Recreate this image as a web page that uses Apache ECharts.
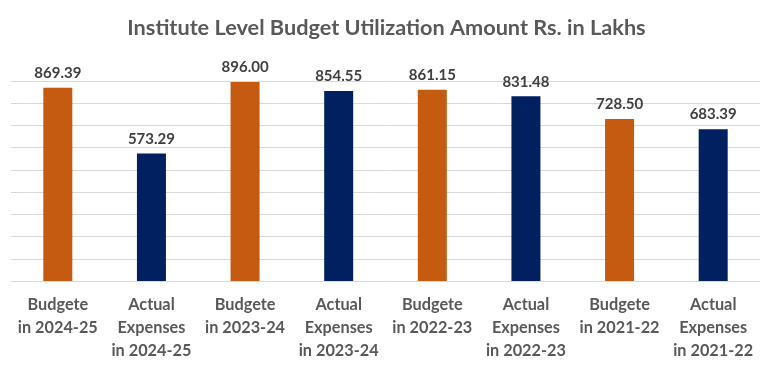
<!DOCTYPE html>
<html><head><meta charset="utf-8">
<script src="https://cdn.jsdelivr.net/npm/echarts@6/dist/echarts.min.js"></script>
<style>html,body{margin:0;padding:0;background:#fff}#c{width:773px;height:373px}</style>
</head><body><div id="c"></div>
<script>
const titleText = "Institute Level Budget Utilization Amount Rs. in Lakhs";
const categories = [
  "Budgete\nin 2024-25", "Actual\nExpenses\nin 2024-25",
  "Budgete\nin 2023-24", "Actual\nExpenses\nin 2023-24",
  "Budgete\nin 2022-23", "Actual\nExpenses\nin 2022-23",
  "Budgete\nin 2021-22", "Actual\nExpenses\nin 2021-22"
];
const values = [869.39, 573.29, 896.00, 854.55, 861.15, 831.48, 728.50, 683.39];
const kinds = ["budget","actual","budget","actual","budget","actual","budget","actual"];
const colorMap = {budget: "#C55A11", actual: "#002060"};

const chart = echarts.init(document.getElementById('c'));
chart.setOption({
  animation: false,
  title: {
    text: titleText, left: 'center', top: 12,
    textStyle: {fontFamily: 'Lato', fontWeight: 'bold', fontSize: 21.7, color: '#595959'}
  },
  grid: {left: 11, right: 13, top: 81, bottom: 92, containLabel: false},
  xAxis: {
    type: 'category', data: categories,
    axisLine: {lineStyle: {color: '#d9d9d9', width: 1}},
    axisTick: {show: false},
    axisLabel: {interval: 0, margin: 12, fontFamily: 'Lato', fontWeight: 'bold', fontSize: 16.3, lineHeight: 23, color: '#595959', verticalAlign: 'top'}
  },
  yAxis: {
    type: 'value', min: 0, max: 900, interval: 100,
    axisLabel: {show: false}, axisLine: {show: false}, axisTick: {show: false},
    splitLine: {lineStyle: {color: '#d9d9d9', width: 1}}
  },
  series: [{
    type: 'bar', barWidth: 29,
    data: values.map((v, i) => ({value: v, itemStyle: {color: colorMap[kinds[i]]}})),
    label: {
      show: true, position: 'top', distance: 7,
      formatter: p => p.value.toFixed(2),
      fontFamily: 'Lato', fontWeight: 'bold', fontSize: 15, color: '#404040'
    }
  }]
});
</script></body></html>
